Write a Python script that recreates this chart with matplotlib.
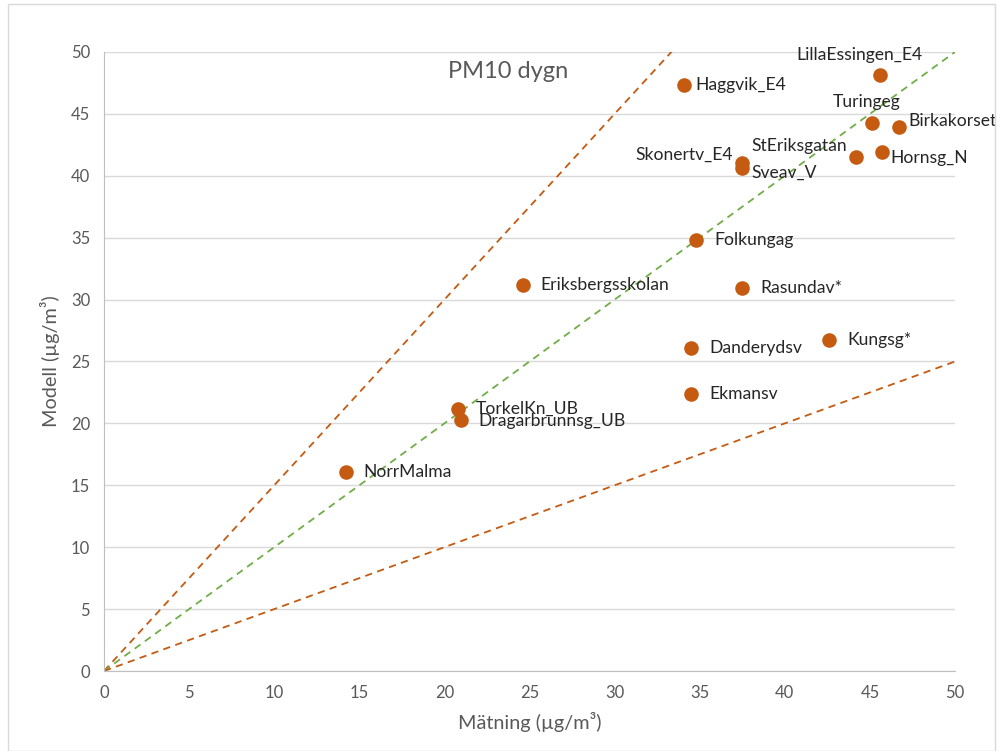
import matplotlib.pyplot as plt
from matplotlib.patches import Rectangle

# Station data: measured vs modelled PM10 (daily)
stations = ["NorrMalma", "TorkelKn_UB", "Dragarbrunnsg_UB", "Eriksbergsskolan",
            "Haggvik_E4", "Folkungag", "Danderydsv", "Ekmansv", "Skonertv_E4",
            "Sveav_V", "Rasundav*", "Kungsg*", "StEriksgatan", "Turingeg",
            "LillaEssingen_E4", "Hornsg_N", "Birkakorset"]
measured = [14.2, 20.8, 21.0, 24.6, 34.1, 34.8, 34.5, 34.5, 37.5,
            37.5, 37.5, 42.6, 44.2, 45.1, 45.6, 45.7, 46.7]
modelled = [16.1, 21.2, 20.3, 31.2, 47.3, 34.8, 26.1, 22.4, 41.0,
            40.6, 30.9, 26.7, 41.5, 44.3, 48.1, 41.9, 43.9]

# label offsets in pixels (dx, dy) and alignment
label_pos = {
    "LillaEssingen_E4": (-21, 20, "center"),
    "Turingeg": (-5, 21, "center"),
    "Birkakorset": (10, 6, "left"),
    "StEriksgatan": (-9, 11, "right"),
    "Hornsg_N": (9, -6, "left"),
    "Skonertv_E4": (-9, 9, "right"),
    "Sveav_V": (9, -4, "left"),
    "Haggvik_E4": (11, 0, "left"),
    "Dragarbrunnsg_UB": (17, -1, "left"),
}

ticks = [0, 5, 10, 15, 20, 25, 30, 35, 40, 45, 50]
ref_slopes = [1.5, 1.0, 0.5]

orange = "#C55A11"
green = "#70AD47"
grey_text = "#595959"

plt.rcParams["font.family"] = ["Lato", "DejaVu Sans"]

fig = plt.figure(figsize=(9.97, 7.51), dpi=100)
ax = fig.add_axes([0.1043, 0.1065, 0.8536, 0.8243])

# reference lines 1:1, 1.5:1 and 0.5:1
xs = [0, 50]
for k in ref_slopes:
    col = green if k == 1.0 else orange
    ax.plot(xs, [k * v for v in xs], color=col, lw=1.3, ls=(0, (4, 3)), zorder=2)

ax.scatter(measured, modelled, s=110, color=orange, zorder=3, linewidths=0)

for name, x, y in zip(stations, measured, modelled):
    dx, dy, ha = label_pos.get(name, (18, 0, "left"))
    ax.annotate(name, (x, y), xytext=(dx * 0.72, dy * 0.72),
                textcoords="offset points", ha=ha, va="center",
                fontsize=12.6, color="#262626", zorder=4)

ax.text(0.475, 0.968, "PM10 dygn", transform=ax.transAxes, ha="center",
        va="center", fontsize=17, color=grey_text)

ax.set_xlim(0, 50)
ax.set_ylim(0, 50)
ax.set_xticks(ticks)
ax.set_yticks(ticks)
ax.tick_params(length=0, labelsize=12, labelcolor=grey_text, pad=10)
ax.grid(axis="y", color="#D9D9D9", lw=1)
ax.set_axisbelow(True)
for side in ["top", "right"]:
    ax.spines[side].set_visible(False)
for side in ["left", "bottom"]:
    ax.spines[side].set_color("#BFBFBF")

ax.set_xlabel("Mätning (µg/m³)", fontsize=14.3, color=grey_text, labelpad=8)
ax.set_ylabel("Modell (µg/m³)", fontsize=14.3, color=grey_text, labelpad=8)

# light frame around the chart area
fig.patches.append(Rectangle((0.008, 0.0), 0.99, 0.995, transform=fig.transFigure,
                             fill=False, edgecolor="#D9D9D9", lw=1))

fig.savefig("out.png", dpi=100)
